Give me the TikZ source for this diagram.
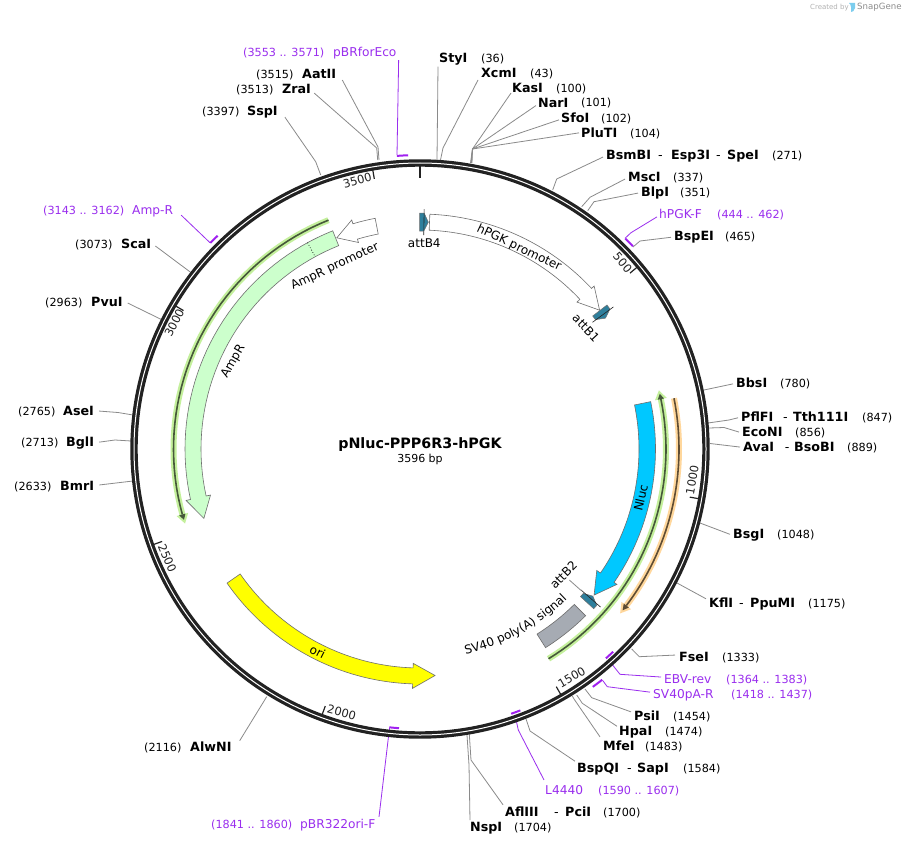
\documentclass[tikz,border=0pt]{standalone}
\usepackage{fontspec}
\usetikzlibrary{decorations.text}
\setmainfont{DejaVu Sans}
\definecolor{ringc}{HTML}{222222}
\definecolor{leadc}{HTML}{8A8A8A}
\definecolor{edgec}{HTML}{6E6E6E}
\definecolor{purp}{HTML}{9A2EEE}
\definecolor{barc}{HTML}{A020F0}
\definecolor{attc}{HTML}{2E7F9C}
\definecolor{ampc}{HTML}{CCFFCC}
\definecolor{nlucc}{HTML}{00C8FF}
\definecolor{svc}{HTML}{A6ABB3}
\definecolor{gglow}{HTML}{C4F09C}
\definecolor{gdark}{HTML}{46583A}
\definecolor{oglow}{HTML}{FFD79C}
\definecolor{odark}{HTML}{5E4C34}
\definecolor{orifill}{HTML}{FFFF00}
\definecolor{logoc}{HTML}{7CCDEE}
\tikzset{
  bn/.style={anchor=base west,inner sep=0pt,yshift=-4.6pt,font=\fontsize{12.7}{14}\selectfont\bfseries},
  hy/.style={anchor=base west,inner sep=0pt,yshift=-4.6pt,font=\fontsize{12.7}{14}\selectfont},
  num/.style={anchor=base west,inner sep=0pt,yshift=-4.1pt,font=\fontsize{11.2}{13}\selectfont},
  pn/.style={anchor=base west,inner sep=0pt,yshift=-4.4pt,text=purp,font=\fontsize{12.2}{14}\selectfont},
  pnum/.style={anchor=base west,inner sep=0pt,yshift=-4.1pt,text=purp,font=\fontsize{11.2}{13}\selectfont},
  lead/.style={draw=leadc,line width=0.8pt},
  plead/.style={draw=purp,line width=0.8pt},
  pbar/.style={draw=barc,line width=2pt},
  feat/.style={draw=edgec,line width=0.6pt},
  flab/.style={inner sep=0pt,font=\fontsize{12}{14}\selectfont},
  tickl/.style={inner sep=0pt,text=ringc,font=\fontsize{11.5}{13}\selectfont},
  tickm/.style={draw=ringc,line width=1.2pt}
}
% #1 style, #2 start, #3 barb angle, #4 tip angle, #5 rin, #6 rout, #7 barb in, #8 barb out
\newcommand\featarrow[8]{%
  \draw[feat,#1] plot[domain=#2:#3,samples=40] ({\x-90}:{#6})
    -- ({#3-90}:{#8}) -- ({#4-90}:{(#5+#6)/2}) -- ({#3-90}:{#7})
    -- plot[domain=#3:#2,samples=40] ({\x-90}:{#5}) -- cycle;}
% #1 glow, #2 dark, #3 start, #4 barb angle, #5 tip angle, #6 r
\newcommand\glowarrow[6]{%
  \draw[#1,line width=6pt] plot[domain=#3:#4,samples=40] ({\x-90}:{#6});
  \fill[#1] ({#4-90}:{#6+6}) -- ({#5-90}:{#6}) -- ({#4-90}:{#6-6}) -- cycle;
  \draw[#2,line width=1.6pt] plot[domain=#3:#4,samples=40] ({\x-90}:{#6});
  \fill[#2] ({#4-90}:{#6+3.2}) -- ({#5-0.4*(#5-#4)-90}:{#6}) -- ({#4-90}:{#6-3.2}) -- cycle;}
% #1 back angle, #2 shoulder angle, #3 tip angle, #4 whisker angle
\newcommand\attmark[4]{%
  \fill[attc,draw=edgec,line width=0.5pt] ({#1-90}:{236}) -- ({#2-90}:{236}) -- ({#3-90}:{227})
    -- ({#2-90}:{218}) -- ({#1-90}:{218}) -- cycle;
  \draw[ringc,line width=0.6pt] ({#4-90}:{214}) -- ({#4-90}:{240});}
\begin{document}
\begin{tikzpicture}[x=1pt,y=-1pt]
\useasboundingbox (0,0) rectangle (907,845);
\fill[white] (0,0) rectangle (907,845);

% watermark
\node[inner sep=0pt,anchor=west,text=black!30,font=\fontsize{7}{8}\selectfont] (wm1) at (810,7.5) {Created by};
\fill[logoc] (849,3) -- (855,3) -- (855,8) .. controls (855,11) and (852,12) .. (851,12) -- (851,7) .. controls (851,5) and (850,4) .. (849,3) -- cycle;
\node[inner sep=0pt,anchor=west,text=black!45,font=\fontsize{8.6}{10}\selectfont] (wm2) at (857,7.5) {SnapGene};

% ---------- labels ----------
\node[bn] (n1) at (439,58) {StyI}; \node[num] (m1) at (481,58) {(36)};
\node[bn] (n2) at (481,73) {XcmI}; \node[num] (m2) at (530,73) {(43)};
\node[bn] (n3) at (512,88) {KasI}; \node[num] (m3) at (556,88) {(100)};
\node[bn] (n4) at (538,102.5) {NarI}; \node[num] (m4) at (581,102.5) {(101)};
\node[bn] (n5) at (561,118) {SfoI}; \node[num] (m5) at (601,118) {(102)};
\node[bn] (n6) at (581,133) {PluTI}; \node[num] (m6) at (630,133) {(104)};
\node[bn] (n7) at (606,155) {BsmBI}; \node[hy] (n7a) at (658,155) {-}; \node[bn] (n7b) at (671,155) {Esp3I}; \node[hy] (n7c) at (716,155) {-}; \node[bn] (n7d) at (727,155) {SpeI}; \node[num] (m7) at (772,155) {(271)};
\node[bn] (n8) at (628,177) {MscI}; \node[num] (m8) at (673,177) {(337)};
\node[bn] (n9) at (641,192) {BlpI}; \node[num] (m9) at (680,192) {(351)};
\node[pn] (p1) at (659,214) {hPGK-F}; \node[pnum] (q1) at (717,214) {(444 .. 462)};
\node[bn] (n10) at (674,236) {BspEI}; \node[num] (m10) at (725,236) {(465)};
\node[bn] (n11) at (736,383) {BbsI}; \node[num] (m11) at (780,383) {(780)};
\node[bn] (n12) at (741,417) {PflFI}; \node[hy] (n12a) at (783,417) {-}; \node[bn] (n12b) at (793,417) {Tth111I}; \node[num] (m12) at (862,417) {(847)};
\node[bn] (n13) at (742,432) {EcoNI}; \node[num] (m13) at (795,432) {(856)};
\node[bn] (n14) at (743,447) {AvaI}; \node[hy] (n14a) at (784.6,447) {-}; \node[bn] (n14b) at (794,447) {BsoBI}; \node[num] (m14) at (847,447) {(889)};
\node[bn] (n15) at (733,534) {BsgI}; \node[num] (m15) at (777,534) {(1048)};
\node[bn] (n16) at (709,603) {KflI}; \node[hy] (n16a) at (739,603) {-}; \node[bn] (n16b) at (750,603) {PpuMI}; \node[num] (m16) at (808,603) {(1175)};
\node[bn] (n17) at (679,657) {FseI}; \node[num] (m17) at (722,657) {(1333)};
\node[pn] (p2) at (664,679) {EBV-rev}; \node[pnum] (q2) at (726,679) {(1364 .. 1383)};
\node[pn] (p3) at (653,694) {SV40pA-R}; \node[pnum] (q3) at (731,694) {(1418 .. 1437)};
\node[bn] (n18) at (634,716) {PsiI}; \node[num] (m18) at (673,716) {(1454)};
\node[bn] (n19) at (619,731) {HpaI}; \node[num] (m19) at (665,731) {(1474)};
\node[bn] (n20) at (603,746) {MfeI}; \node[num] (m20) at (645,746) {(1483)};
\node[bn] (n21) at (577,768) {BspQI}; \node[hy] (n21a) at (627,768) {-}; \node[bn] (n21b) at (637,768) {SapI}; \node[num] (m21) at (683,768) {(1584)};
\node[pn] (p4) at (545,790) {L4440}; \node[pnum] (q4) at (598,790) {(1590 .. 1607)};
\node[bn] (n22) at (505,812) {AflIII}; \node[hy] (n22a) at (554,812) {-}; \node[bn] (n22b) at (565,812) {PciI}; \node[num] (m22) at (603,812) {(1700)};
\node[bn] (n23) at (470,827) {NspI}; \node[num] (m23) at (514,827) {(1704)};
\node[pnum] (q5) at (211,824) {(1841 .. 1860)}; \node[pn] (p5) at (300,824) {pBR322ori-F};
\node[num] (m24) at (144,747) {(2116)}; \node[bn] (n24) at (190,747) {AlwNI};
\node[num] (m25) at (14,486) {(2633)}; \node[bn] (n25) at (60,486) {BmrI};
\node[num] (m26) at (21,442) {(2713)}; \node[bn] (n26) at (66,442) {BglI};
\node[num] (m27) at (18,411) {(2765)}; \node[bn] (n27) at (63,411) {AseI};
\node[num] (m28) at (45,302) {(2963)}; \node[bn] (n28) at (91,302) {PvuI};
\node[num] (m29) at (75,244) {(3073)}; \node[bn] (n29) at (121,244) {ScaI};
\node[pnum] (q6) at (43,210) {(3143 .. 3162)}; \node[pn] (p6) at (132,210) {Amp-R};
\node[num] (m30) at (202,111) {(3397)}; \node[bn] (n30) at (247,111) {SspI};
\node[num] (m31) at (236,89) {(3513)}; \node[bn] (n31) at (282,89) {ZraI};
\node[num] (m32) at (256,74) {(3515)}; \node[bn] (n32) at (302,74) {AatII};
\node[pnum] (q7) at (243,52) {(3553 .. 3571)}; \node[pn] (p7) at (333,52) {pBRforEco};

% ---------- leaders ----------
\draw[lead] (n1.south west) ++(-1,1) -- (437,160);
\draw[lead] (n2.south west) ++(-3,2) -- (443,148) -- (440.5,160);
\draw[lead] (n3.west) ++(-1,5) -- (472.5,149) -- (470.5,163);
\draw[lead] (n4.west) ++(-2,3) -- (472.5,149) -- (471,163);
\draw[lead] (n5.west) ++(-2,2) -- (472.5,149) -- (471.5,163);
\draw[lead] (n6.west) ++(-2,0) -- (472.5,149) -- (472,163);
\draw[lead] (n7.west) ++(-3,2) -- (556.7,179) -- (552.7,190);
\draw[lead] (n8.west) ++(-3,2) -- (590,197.3) -- (581.7,206.7);
\draw[lead] (n9.west) ++(-3,0) -- (594,201.7) -- (587.7,210.7);
\draw[plead] (p1.west) ++(-2,3) -- (631,232.7) -- (625,238.3);
\draw[lead] (n10.west) ++(-3,0) -- (640,241) -- (633,247);
\draw[lead] (n11.west) ++(-3,1) -- (704,390);
\draw[lead] (n12.west) ++(-3,1) -- (729,420) -- (708,423);
\draw[lead] (n13.west) ++(-3,0) -- (724,427.5) -- (709,428);
\draw[lead] (n14.west) ++(-3,0) -- (710,443.5);
\draw[lead] (n15.west) ++(-3,-1) -- (700,523);
\draw[lead] (n16.west) ++(-3,-4) -- (677,583);
\draw[lead] (n17.west) ++(-4,-2) -- (639.3,656.7) -- (631.7,649);
\draw[plead] (p2.west) ++(-3,-2) -- (620,674.3) -- (611,663);
\draw[plead] (p3.west) ++(-3,-3) -- (607.3,686.7) -- (602.7,680.5);
\draw[lead] (n18.west) ++(-3,-4) -- (591.7,697.7) -- (585,689);
\draw[lead] (n19.west) ++(-2,-6) -- (582.3,703.3) -- (576.7,695);
\draw[lead] (n20.west) ++(-3,-9) -- (574,699) -- (572.3,696);
\draw[lead] (n21.west) ++(-2,-8) -- (530,731) -- (526,719);
\draw[plead] (p4.west) ++(-1,-10) -- (518.3,730) -- (515,715);
\draw[lead] (n22.west) ++(-2,-7) -- (471,760) -- (469.3,734);
\draw[lead] (n23.north west) ++(0,-2) -- (469,765) -- (467,735);
\draw[plead] (p5.north west) ++(79,-2) -- (389.5,728);
\draw[lead] (n24.north east) ++(8,-1) -- (266.7,696.7);
\draw[lead] (n25.east) ++(5,-1) -- (133,481);
\draw[lead] (n26.east) ++(5,-1) -- (115,440) -- (131,441);
\draw[lead] (n27.east) ++(5,0) -- (118,412.5) -- (133,415);
\draw[lead] (n28.east) ++(5,1) -- (161.6,319.6);
\draw[lead] (n29.east) ++(4,2) -- (191,272.6);
\draw[plead] (p6.east) ++(8,4) -- (210,242.7);
\draw[lead] (n30.east) ++(7,5) -- (315.7,161.7) -- (320.7,175);
\draw[lead] (n31.east) ++(3,4) -- (376.7,148) -- (377.7,160);
\draw[lead] (n32.east) ++(6,6) -- (378,147) -- (379,160);
\draw[plead] (p7.east) ++(2,7) -- (397,155);

\begin{scope}[shift={(420,449)}]
% ---------- backbone ----------
\draw[ringc,line width=7.4pt] (0,0) circle[radius=286];
\draw[white,line width=1pt] (0,0) circle[radius=286];
\draw[ringc,line width=2.7pt] (-90:283) -- (-90:271);
\foreach \b in {500,1000,1500,2000,2500,3000,3500}{
  \draw[tickm] ({\b*0.10011-90}:{284}) -- ({\b*0.10011-90}:{274});}

% ---------- primer bars ----------
\draw[pbar] plot[domain=44.3:46.4,samples=6] ({\x-90}:{294});
\draw[pbar] plot[domain=136.4:138.4,samples=6] ({\x-90}:{280});
\draw[pbar] plot[domain=141.7:144,samples=6] ({\x-90}:{294});
\draw[pbar] plot[domain=159:161,samples=6] ({\x-90}:{280});
\draw[pbar] plot[domain=184.3:186.3,samples=6] ({\x-90}:{280});
\draw[pbar] plot[domain=314.5:316.5,samples=6] ({\x-90}:{294});
\draw[pbar] plot[domain=355.5:357.7,samples=6] ({\x-90}:{294});

% ---------- strand lines ----------
\glowarrow{gglow}{gdark}{148.5}{78.3}{76.2}{246}
\glowarrow{gglow}{gdark}{338.2}{254.6}{252.4}{246.5}
\glowarrow{oglow}{odark}{78.7}{127.2}{129.4}{259}

% ---------- features ----------
\featarrow{fill=white}{2.4}{46.9}{52.3}{219}{235}{215}{238.5}
\featarrow{fill=white}{-11}{-16.6}{-21.5}{219}{235}{215.5}{239}
\featarrow{fill=ampc}{338.2}{257.6}{252.2}{219}{235}{214.5}{239.5}
\draw[black,line width=0.7pt,dotted] ({331.4-90}:{235}) -- ({331.4-90}:{219});
\featarrow{fill=nlucc}{78.4}{124.5}{130}{219}{235.5}{214.5}{239}
\featarrow{fill=orifill}{235.2}{181.8}{176.2}{219}{235}{214.5}{239.5}
\draw[feat,fill=svc] plot[domain=135.2:147.7,samples=12] ({\x-90}:{235})
  -- plot[domain=147.7:135.2,samples=12] ({\x-90}:{219}) -- cycle;
\attmark{-0.1}{1.0}{2.1}{1.0}
\attmark{52.4}{53.6}{54.8}{53.7}
\attmark{132.6}{131.5}{130.4}{131.2}

% curved label
\path[decorate,decoration={text along path,text align=center,
    text={|\fontsize{12}{14}\selectfont|SV40 poly(A) signal}}]
  plot[domain=176:127,samples=40] ({\x-90}:{210});
\end{scope}

% ---------- feature labels ----------
\coordinate (attb2a) at (569.3,580);
\coordinate (attb2b) at (581.7,591);
\draw[lead] (attb2a) -- (attb2b);
\node[flab] (tB4) at (424.3,243) {attB4};
\node[flab,rotate=-47] (tB1) at (586,328) {attB1};
\node[flab,rotate=45] (tB2) at (563.5,575) {attB2};
\node[flab,rotate=-25] (tPGK) at (519,248) {hPGK promoter};
\node[flab,rotate=25] (tAmpP) at (335,266.7) {AmpR promoter};
\node[flab,rotate=60] (tAmp) at (233.3,361.7) {AmpR};
\node[flab,rotate=77] (tNl) at (640.7,498) {Nluc};
\node[flab,rotate=-27] (tOri) at (317.7,651.7) {ori};

% ---------- tick labels ----------
\node[tickl,rotate=-50] (t500) at (622.7,262.7) {500};
\node[tickl,rotate=80] (t1000) at (692.3,480) {1000};
\node[tickl,rotate=30] (t1500) at (571.7,677.3) {1500};
\node[tickl,rotate=-15] (t2000) at (341.7,712.7) {2000};
\node[tickl,rotate=-67] (t2500) at (167.3,558.3) {2500};
\node[tickl,rotate=63] (t3000) at (174.3,322.7) {3000};
\node[tickl,rotate=15] (t3500) at (357.3,180.7) {3500};

% ---------- title ----------
\node[inner sep=0pt,font=\fontsize{14.3}{16}\selectfont\bfseries] (title) at (420,445) {pNluc-PPP6R3-hPGK};
\node[inner sep=0pt,font=\fontsize{11}{13}\selectfont] (sub) at (420,459.5) {3596 bp};
\end{tikzpicture}
\end{document}
